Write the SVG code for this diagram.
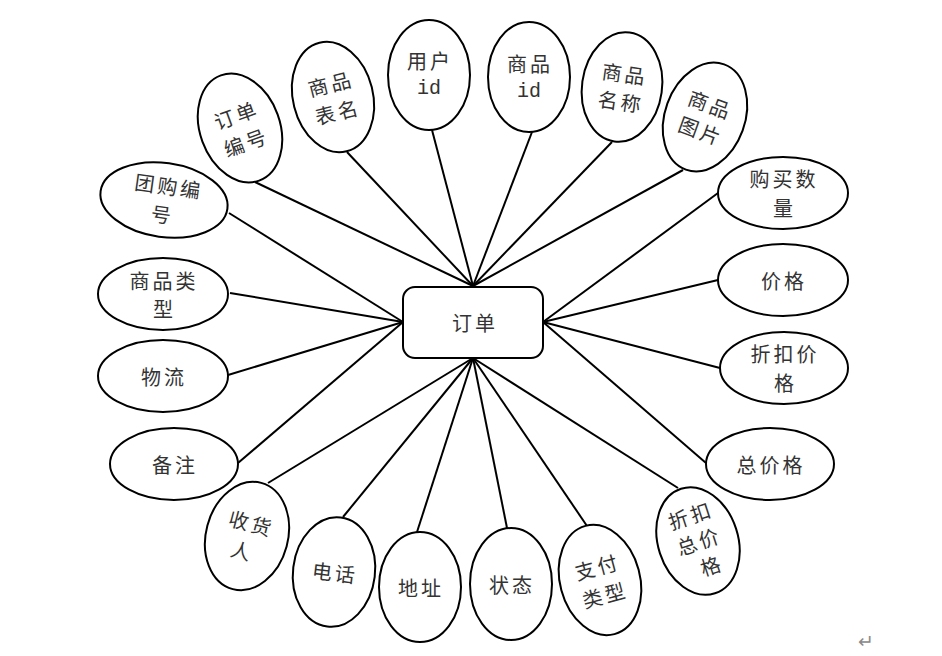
<svg xmlns="http://www.w3.org/2000/svg" width="942" height="656" viewBox="0 0 942 656">
<style>
  .bg{fill:#ffffff}
  .attr ellipse{fill:#ffffff;stroke:#000000;stroke-width:2}
  .ent rect{fill:#ffffff;stroke:#000000;stroke-width:2}
  .conn line{stroke:#000000;stroke-width:2}
  text{font-family:"Noto Sans CJK SC","Noto Sans",sans-serif;font-size:20px;fill:#333333;text-anchor:middle;dominant-baseline:central}
  .sp{letter-spacing:3px}
  .mono{font-family:"Liberation Mono","Noto Sans CJK SC",monospace}
  .mark{fill:#8a8a8a;font-size:19px}
</style>
<rect class="bg" x="0" y="0" width="942" height="656"/>
<g id="connectors" class="conn">
  <line x1="229" y1="213" x2="403" y2="322"/>
  <line x1="230" y1="293" x2="403" y2="322"/>
  <line x1="228" y1="375" x2="403" y2="322"/>
  <line x1="238" y1="463" x2="403" y2="322"/>
  <line x1="255" y1="182" x2="473" y2="286"/>
  <line x1="347" y1="152" x2="473" y2="286"/>
  <line x1="432" y1="130" x2="473" y2="286"/>
  <line x1="532" y1="132" x2="473" y2="286"/>
  <line x1="612" y1="142" x2="473" y2="286"/>
  <line x1="683" y1="170" x2="473" y2="286"/>
  <line x1="718" y1="193" x2="543" y2="322"/>
  <line x1="718" y1="280" x2="543" y2="322"/>
  <line x1="720" y1="368" x2="543" y2="322"/>
  <line x1="706" y1="463" x2="543" y2="322"/>
  <line x1="678" y1="488" x2="473" y2="358"/>
  <line x1="587" y1="526" x2="473" y2="358"/>
  <line x1="507" y1="528" x2="473" y2="358"/>
  <line x1="417" y1="532" x2="473" y2="358"/>
  <line x1="343" y1="517" x2="473" y2="358"/>
  <line x1="268" y1="483" x2="473" y2="358"/>
</g>
<g id="order" class="ent">
  <rect x="403" y="287" width="140" height="71" rx="12" ry="12"/>
  <text x="475" y="322" class="sp">订单</text>
</g>
<g id="tuangoubianhao" class="attr" transform="translate(164,200) rotate(8)">
  <ellipse rx="64" ry="37"/>
  <text x="3" y="-15" class="sp">团购编</text>
  <text x="-1" y="14">号</text>
</g>
<g id="dingdanbianhao" class="attr" transform="translate(240,128) rotate(-20)">
  <ellipse rx="40" ry="56"/>
  <text x="1" y="-14" class="sp">订单</text>
  <text x="1" y="15" class="sp">编号</text>
</g>
<g id="shangpinbiaoming" class="attr" transform="translate(333,97) rotate(-14)">
  <ellipse rx="40" ry="56"/>
  <text x="1" y="-14" class="sp">商品</text>
  <text x="1" y="15" class="sp">表名</text>
</g>
<g id="yonghuid" class="attr" transform="translate(429,75)">
  <ellipse rx="41" ry="55"/>
  <text x="1" y="-15" class="sp">用户</text>
  <text x="0" y="13" class="mono">id</text>
</g>
<g id="shangpinid" class="attr" transform="translate(529,77)">
  <ellipse rx="41" ry="55"/>
  <text x="1" y="-14" class="sp">商品</text>
  <text x="0" y="14" class="mono">id</text>
</g>
<g id="shangpinmingcheng" class="attr" transform="translate(622,87) rotate(8)">
  <ellipse rx="40" ry="55"/>
  <text x="1" y="-14" class="sp">商品</text>
  <text x="1" y="14" class="sp">名称</text>
</g>
<g id="shangpintupian" class="attr" transform="translate(705,117) rotate(20)">
  <ellipse rx="40" ry="56"/>
  <text x="1" y="-14" class="sp">商品</text>
  <text x="1" y="14" class="sp">图片</text>
</g>
<g id="goumaishuliang" class="attr" transform="translate(783,193)">
  <ellipse rx="65" ry="36"/>
  <text x="1" y="-15" class="sp">购买数</text>
  <text x="0" y="14">量</text>
</g>
<g id="jiage" class="attr" transform="translate(783,280)">
  <ellipse rx="65" ry="36"/>
  <text x="1" y="0" class="sp">价格</text>
</g>
<g id="zhekoujiage" class="attr" transform="translate(784,368)">
  <ellipse rx="64" ry="36"/>
  <text x="1" y="-15" class="sp">折扣价</text>
  <text x="0" y="14">格</text>
</g>
<g id="zongjiage" class="attr" transform="translate(770,464)">
  <ellipse rx="64" ry="36"/>
  <text x="1" y="0" class="sp">总价格</text>
</g>
<g id="zhekouzongjiage" class="attr" transform="translate(698,541) rotate(-18)">
  <ellipse rx="40" ry="55"/>
  <text x="1" y="-27" class="sp">折扣</text>
  <text x="1" y="0" class="sp">总价</text>
  <text x="4" y="27">格</text>
</g>
<g id="zhifuleixing" class="attr" transform="translate(600,580) rotate(-15)">
  <ellipse rx="40" ry="56"/>
  <text x="1" y="-14" class="sp">支付</text>
  <text x="1" y="15" class="sp">类型</text>
</g>
<g id="zhuangtai" class="attr" transform="translate(511,584)">
  <ellipse rx="41" ry="56"/>
  <text x="1" y="0" class="sp">状态</text>
</g>
<g id="dizhi" class="attr" transform="translate(420,587)">
  <ellipse rx="41" ry="55"/>
  <text x="1" y="0" class="sp">地址</text>
</g>
<g id="dianhua" class="attr" transform="translate(334,572) rotate(7)">
  <ellipse rx="41" ry="55"/>
  <text x="1" y="0" class="sp">电话</text>
</g>
<g id="shouhuoren" class="attr" transform="translate(247,536) rotate(15)">
  <ellipse rx="41" ry="55"/>
  <text x="1" y="-14" class="sp">收货</text>
  <text x="-2" y="15">人</text>
</g>
<g id="beizhu" class="attr" transform="translate(174,464)">
  <ellipse rx="64" ry="36"/>
  <text x="1" y="0" class="sp">备注</text>
</g>
<g id="wuliu" class="attr" transform="translate(163,376)">
  <ellipse rx="65" ry="36"/>
  <text x="1" y="0" class="sp">物流</text>
</g>
<g id="shangpinleixing" class="attr" transform="translate(163,294)">
  <ellipse rx="65" ry="36"/>
  <text x="1" y="-14" class="sp">商品类</text>
  <text x="0" y="14">型</text>
</g>
<text x="866" y="639" class="mark">↵</text>
</svg>
